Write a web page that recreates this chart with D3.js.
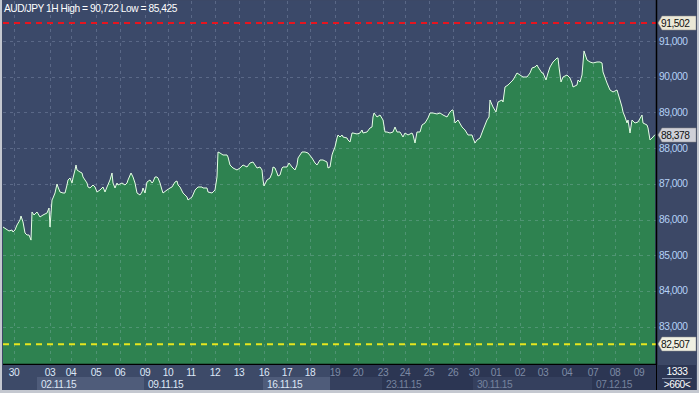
<!DOCTYPE html>
<html><head><meta charset="utf-8">
<script src="https://cdn.jsdelivr.net/npm/d3@7"></script>
<style>
body{margin:0;background:#fff}
svg{display:block}
text{font-family:"Liberation Sans",Arial,sans-serif;letter-spacing:-0.45px}
</style>
</head><body>
<svg id="c" width="699" height="393"></svg>
<script>
// ---- data (hour index within visible window, AUD/JPY close) ----
const hours = [0,3,6,9,10,12,14,17,18,20,22,24,26,28,29,31,34,37,40,44,46,47,49,50,52,54,55,57,60,62,64,65,67,69,70,72,73,74,77,79,80,84,85,87,90,92,94,97,100,102,104,107,109,110,112,114,115,119,122,124,125,128,130,132,134,137,139,140,142,144,147,149,150,152,154,155,157,159,160,164,167,169,172,174,175,177,180,184,185,189,192,195,199,200,204,205,209,212,214,215,217,220,224,225,227,230,234,237,240,244,247,250,254,257,259,260,261,264,267,269,270,272,274,275,277,279,280,284,286,289,292,294,295,299,302,305,309,312,314,317,320,324,325,327,329,330,332,334,335,337,339,340,344,345,347,349,350,354,357,359,360,364,367,369,370,371,374,377,380,382,384,387,390,392,394,397,400,402,405,409,410,412,414,417,419,422,425,427,430,434,437,440,444,447,449,450,452,455,459,462,465,469,470,472,474,477,480,484,486,487,490,493,495,499,500,502,505,507,510,514,517,520,524,527,529,532,534,535,539,540,543,545,547,550,554,555,556,558,560,564,567,569,570,574,575,577,579,581,584,587,590,594,597,599,600,604,607,610,614,617,619,620,622,624,625,627,629,632,635,639,640,644,645,647,650,652];
const prices = [85.792,85.736,85.680,85.708,85.652,85.708,85.848,85.988,86.100,85.932,85.624,85.568,85.568,85.425,86.212,86.128,86.212,86.072,86.128,86.184,86.324,85.792,86.548,86.604,86.744,86.996,86.912,86.772,86.744,86.744,86.968,87.108,87.164,87.024,87.164,87.388,87.528,87.388,87.332,87.304,87.192,87.024,86.912,86.884,86.968,86.912,86.772,86.828,86.912,86.772,86.912,87.108,87.304,87.024,86.884,87.024,86.968,87.024,86.968,87.024,87.108,87.304,87.192,87.024,86.744,86.688,86.772,86.884,86.744,87.052,87.108,87.024,87.052,87.192,87.192,87.164,87.024,86.828,86.744,86.828,86.884,86.912,87.052,87.080,86.968,86.912,86.744,86.632,86.548,86.632,86.828,86.912,86.912,86.884,86.884,86.772,86.744,86.828,87.192,87.892,87.864,87.808,87.808,87.752,87.528,87.444,87.388,87.444,87.528,87.472,87.584,87.612,87.444,87.472,87.388,87.108,86.940,87.108,87.164,87.304,87.472,87.444,87.304,87.220,87.248,87.444,87.472,87.472,87.584,87.472,87.388,87.528,87.724,87.892,87.892,87.864,87.724,87.584,87.528,87.668,87.668,87.612,87.444,87.472,87.808,87.892,88.032,88.284,88.368,88.312,88.368,88.312,88.284,88.228,88.172,88.424,88.424,88.396,88.424,88.508,88.424,88.452,88.564,88.592,88.872,88.984,88.872,88.928,88.788,88.452,88.452,88.424,88.452,88.592,88.452,88.452,88.312,88.424,88.368,88.424,88.368,88.144,88.452,88.452,88.648,88.704,88.844,88.984,88.984,88.956,88.984,88.928,88.872,89.012,89.068,89.068,88.704,88.788,88.592,88.508,88.368,88.368,88.284,88.144,88.228,88.284,88.508,88.788,88.872,89.348,89.152,89.012,89.292,89.348,89.292,89.712,89.768,89.824,89.908,90.104,90.048,89.992,89.992,90.104,90.244,90.272,90.328,90.272,90.104,90.104,89.908,90.104,90.272,90.412,90.524,90.524,90.272,89.852,89.992,90.048,89.964,89.824,89.712,89.768,89.908,89.852,90.048,90.722,90.468,90.412,90.384,90.412,90.412,90.384,90.132,89.824,89.628,89.572,89.628,89.348,89.152,89.012,88.872,88.704,88.788,88.424,88.788,88.704,88.732,88.928,88.704,88.648,88.564,88.228,88.312,88.378];

const yTicks = [83,84,85,86,87,88,89,90,91];
const dayTickHours = [11,47,68,93,117,142,165,188,212,236,261,284,307,332,355,380,402,426,450,471,493,517,540,564,590,612,636];
const dayTickLabels = ["30","03","04","05","06","09","10","11","12","13","16","17","18","19","20","23","24","25","26","30","01","02","03","04","07","08","09"];
const weekStartHours = [34,141,260,379,470,589];
const weekLabels = ["02.11.15","09.11.15","16.11.15","23.11.15","30.11.15","07.12.15"];
const shadeStartHour = 327;
const title = "AUD/JPY 1H High = 90,722 Low = 85,425";
const resistance = 91.502, support = 82.507, lastPrice = 88.378;
const totalBars = "1333", visibleBars = ">660<";

// ---- layout ----
const W = 699, H = 393;
const plot = {l:3, r:656, t:1, b:364};
const FS = 10.2;
const fmt = v => d3.format(",.3f")(v).replace(".", ",");
const fmtTick = v => d3.format(".3f")(v).replace(".", ",");

const svg = d3.select("#c");
const x = d3.scaleLinear().domain([0, 653]).range([plot.l, plot.r]);
const y = d3.scaleLinear().domain([83, 91]).range([326.7, 41]);

// frame
svg.append("rect").attr("width",W).attr("height",H).attr("fill","#c4c8d0");
svg.append("rect").attr("x",2).attr("y",0).attr("width",W-4).attr("height",390).attr("fill","#3c4866");
// plot background
svg.append("rect").attr("x",plot.l).attr("y",plot.t).attr("width",plot.r-plot.l).attr("height",plot.b-plot.t).attr("fill","#3b4969");

const data = hours.map((h,i)=>({h, v:prices[i]}));

// area
svg.append("path").datum(data)
  .attr("d", d3.area().x(d=>x(d.h)).y0(plot.b).y1(d=>y(d.v)))
  .attr("fill","#2e8250");

// grid
const grid = svg.append("g").attr("stroke","rgba(200,215,240,0.22)").attr("stroke-dasharray","3,4").attr("stroke-width",1);
grid.selectAll("line.h").data(yTicks).join("line")
  .attr("x1",plot.l).attr("x2",plot.r)
  .attr("y1",d=>Math.round(y(d))+0.5).attr("y2",d=>Math.round(y(d))+0.5);
grid.selectAll("line.v").data(dayTickHours).join("line")
  .attr("x1",d=>Math.round(x(d))+0.5).attr("x2",d=>Math.round(x(d))+0.5)
  .attr("y1",plot.t).attr("y2",plot.b);

// line
svg.append("path").datum(data)
  .attr("d", d3.line().x(d=>x(d.h)).y(d=>y(d.v)))
  .attr("fill","none").attr("stroke","#e6ffe6").attr("stroke-width",1);

// level lines
svg.append("line").attr("x1",plot.l).attr("x2",plot.r)
  .attr("y1",y(resistance)).attr("y2",y(resistance))
  .attr("stroke","#e8141e").attr("stroke-width",2).attr("stroke-dasharray","6,5");
svg.append("line").attr("x1",plot.l).attr("x2",plot.r)
  .attr("y1",y(support)).attr("y2",y(support))
  .attr("stroke","#e6e61e").attr("stroke-width",2).attr("stroke-dasharray","6,5");

// title
svg.append("text").attr("x",4).attr("y",12).attr("fill","#ffffff").attr("font-size",FS).text(title);

// separators
svg.append("line").attr("x1",plot.r+0.5).attr("x2",plot.r+0.5).attr("y1",0).attr("y2",390).attr("stroke","#000").attr("stroke-width",1.5);
svg.append("line").attr("x1",plot.l).attr("x2",plot.r).attr("y1",plot.b+0.5).attr("y2",plot.b+0.5).attr("stroke","#000").attr("stroke-width",1.5);

// right axis labels
svg.append("g").selectAll("text").data(yTicks).join("text")
  .attr("x",659).attr("y",d=>y(d)+3.5).attr("fill","#b6d2f6").attr("font-size",FS)
  .text(d=>fmtTick(d));

// price tags
function tag(v, fill){
  const yy = Math.round(y(v));
  const g = svg.append("g");
  g.append("path").attr("d",`M${plot.r+2},${yy} L${plot.r+6},${yy-7} L${W-3},${yy-7} L${W-3},${yy+7} L${plot.r+6},${yy+7} Z`)
   .attr("fill",fill).attr("stroke","#8a8a8a").attr("stroke-width",0.5);
  g.append("text").attr("x",661).attr("y",yy+4).attr("fill","#101010").attr("font-size",FS).text(fmt(v));
}
tag(resistance,"#ebe8d6");
tag(lastPrice,"#cfd0d8");
tag(support,"#f0f0e2");

// bottom axis
const axisY = plot.b+1;
svg.append("rect").attr("x",plot.l).attr("y",axisY).attr("width",x(shadeStartHour)-plot.l).attr("height",390-axisY).attr("fill","#3d4a68");
svg.append("rect").attr("x",x(shadeStartHour)).attr("y",axisY).attr("width",plot.r-x(shadeStartHour)).attr("height",390-axisY).attr("fill","#2c3653");
// week boxes
const weekEnds = weekStartHours.slice(1).concat([653]);
const wk = svg.append("g");
weekStartHours.forEach((h,i)=>{
  const x0 = x(h), x1 = x(weekEnds[i]);
  const dark = h >= shadeStartHour;
  if(i%2===0){
    const segs = [];
    if(!dark && x(weekEnds[i])>x(shadeStartHour)){ segs.push([x0,x(shadeStartHour),"#4f5c7a"]); segs.push([x(shadeStartHour),x1,"#35405e"]); }
    else segs.push([x0,x1, dark?"#35405e":"#4f5c7a"]);
    segs.forEach(s=>wk.append("rect").attr("x",s[0]).attr("y",377).attr("width",s[1]-s[0]).attr("height",13).attr("fill",s[2]));
  }
  wk.append("text").attr("x",x0+4).attr("y",388).attr("font-size",FS)
    .attr("fill", dark ? "#76839e" : "#dde7f6").text(weekLabels[i]);
});
// day labels
svg.append("g").selectAll("text").data(dayTickHours).join("text")
  .attr("x",d=>x(d)).attr("y",376).attr("text-anchor","middle").attr("font-size",FS)
  .attr("fill",d=> d>=shadeStartHour ? "#7d8aa5" : "#dde7f6")
  .text((d,i)=>dayTickLabels[i]);

// bottom-right box
svg.append("rect").attr("x",plot.r+1).attr("y",axisY).attr("width",W-3-plot.r-1).attr("height",390-axisY).attr("fill","#2c3653");
svg.append("text").attr("x",677).attr("y",375).attr("text-anchor","middle").attr("fill","#ffffff").attr("font-size",FS).text(totalBars);
svg.append("line").attr("x1",662).attr("x2",692).attr("y1",378.5).attr("y2",378.5).attr("stroke","#7d8aa5");
svg.append("text").attr("x",677).attr("y",388).attr("text-anchor","middle").attr("fill","#ffffff").attr("font-size",FS).text(visibleBars);
</script>
</body></html>
